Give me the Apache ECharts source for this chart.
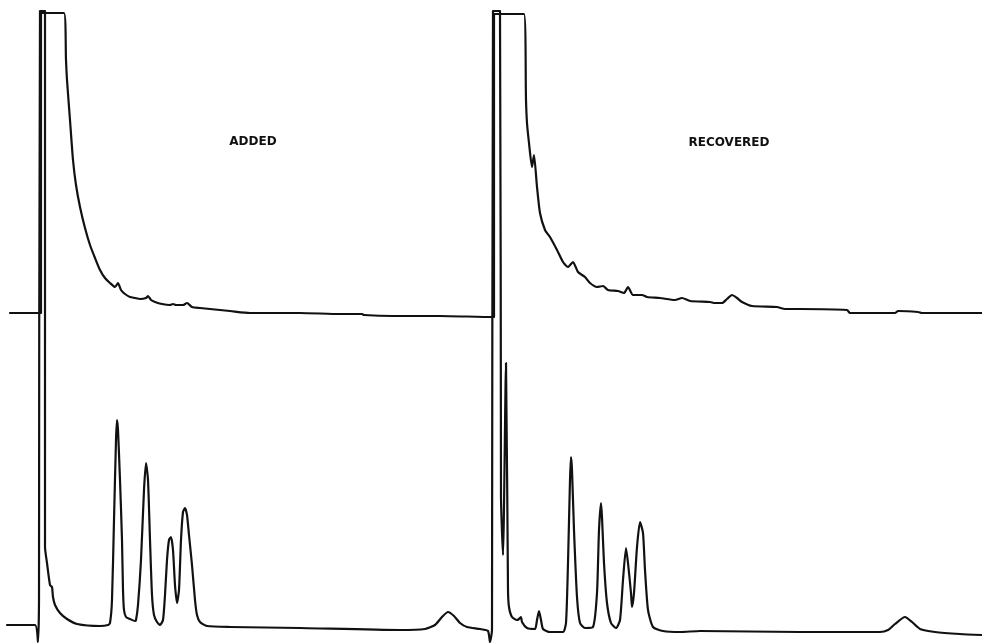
<!DOCTYPE html>
<html>
<head>
<meta charset="utf-8">
<script src="https://cdn.jsdelivr.net/npm/echarts@6/dist/echarts.min.js"></script>
<style>
  html, body { margin: 0; padding: 0; background: #ffffff; }
  #chart { width: 982px; height: 644px; }
</style>
</head>
<body>
<div id="chart"></div>
<script>
// Strip-chart recording: two pens running across the same paper.
// x = chart distance (retention), y = pen response; both pens saturate at the top.

const panelLabels = ['ADDED', 'RECOVERED'];

// Upper pen (high-sensitivity channel)
const upperTrace = [
  [10, 331], [40, 331], [41, 331], [41, 631], [64, 631], [66, 584], [67, 564],
  [70, 524], [73, 484], [76, 459], [80, 437], [85, 416], [90, 399], [95, 386],
  [100, 374], [105, 366], [110, 361], [115, 357], [118, 361], [121, 354],
  [125, 350], [130, 347], [135, 346], [140, 345], [146, 346], [148, 348],
  [151, 344], [155, 342], [162, 340], [170, 339], [173, 340], [176, 339],
  [183, 339], [187, 341], [192, 337], [200, 336], [230, 333], [250, 331],
  [300, 331], [340, 330], [362, 330], [364, 329], [393, 328], [440, 328],
  [493, 327], [494, 327], [494, 630], [524, 630], [526, 544], [527, 521],
  [529, 501], [532, 477], [534, 489], [537, 457], [540, 431], [545, 414],
  [550, 407], [557, 394], [563, 382], [568, 377], [573, 382], [578, 372],
  [585, 367], [590, 361], [597, 357], [603, 358], [608, 354], [618, 353],
  [624, 351], [628, 357], [633, 349], [642, 349], [647, 347], [660, 346],
  [675, 344], [682, 346], [690, 343], [710, 342], [715, 341], [722, 341],
  [727, 345], [732, 349], [737, 346], [742, 342], [752, 338], [777, 337],
  [785, 335], [800, 335], [847, 334], [850, 331], [895, 331], [898, 333],
  [918, 332], [922, 331], [982, 331]
];

// Lower pen (low-sensitivity channel)
const lowerTrace = [
  [7, 19], [35, 19], [38, 2], [39, 44], [40, 633], [45, 633], [45, 97],
  [47, 81], [50, 59], [52, 57], [53, 47], [55, 39], [60, 31], [67, 25],
  [77, 20], [100, 18], [108, 19],
  [110, 21], [112, 44], [114, 124], [116, 204], [117, 224], [118, 214],
  [120, 164], [122, 104], [123, 54], [124, 34], [126, 27], [130, 25],
  [135, 23], [136, 24],
  [138, 39], [141, 84], [144, 154], [146, 181], [148, 164], [150, 104],
  [152, 49], [154, 29], [157, 22], [160, 19],
  [163, 24], [165, 49], [167, 84], [169, 104], [171, 107], [173, 94],
  [175, 59], [177, 41], [179, 54], [181, 104], [183, 132], [185, 136],
  [187, 129], [189, 109], [192, 79], [195, 44], [197, 29], [200, 22],
  [207, 18], [230, 17], [300, 16], [400, 14], [425, 15], [435, 19],
  [442, 27], [448, 32], [454, 28], [460, 21], [467, 17], [480, 15],
  [488, 13], [490, 2], [492, 14], [493, 633], [500, 633], [501, 147],
  [503, 89], [506, 281], [508, 54], [509, 37], [512, 27], [517, 24],
  [519, 25], [521, 27], [522, 22], [527, 16], [535, 15], [537, 24],
  [539, 33], [541, 24], [543, 15], [550, 12], [563, 12],
  [566, 21], [568, 81], [570, 164], [571, 187], [572, 174], [574, 114],
  [577, 47], [580, 21], [585, 16], [593, 17],
  [597, 51], [599, 114], [601, 141], [602, 127], [604, 81], [607, 41],
  [611, 21], [616, 16],
  [620, 24], [623, 64], [626, 96], [628, 81], [631, 51], [632, 37],
  [634, 51], [637, 97], [640, 122], [643, 111], [645, 74], [648, 34],
  [653, 17], [663, 13], [680, 12], [700, 13], [800, 12], [880, 12],
  [888, 14], [895, 20], [905, 27], [912, 22], [920, 15], [935, 12],
  [960, 10], [982, 9]
];

const chart = echarts.init(document.getElementById('chart'), null, { renderer: 'canvas' });

const penStyle = { color: '#111111', width: 2.2, join: 'round', cap: 'round' };

function labelText(text, x, y) {
  return {
    type: 'text', x: x, y: y,
    style: {
      text: text, fill: '#111111', font: 'bold 12px "DejaVu Sans"',
      textAlign: 'center', textVerticalAlign: 'middle'
    }
  };
}

chart.setOption({
  backgroundColor: '#ffffff',
  animation: false,
  grid: { left: 0, right: 0, top: 0, bottom: 0 },
  xAxis: { type: 'value', min: 0, max: 982, show: false },
  yAxis: { type: 'value', min: 0, max: 644, show: false },
  series: [
    { name: 'upper', type: 'line', data: upperTrace, showSymbol: false, smooth: 0.2, lineStyle: penStyle, silent: true },
    { name: 'lower', type: 'line', data: lowerTrace, showSymbol: false, smooth: 0.2, lineStyle: penStyle, silent: true }
  ],
  graphic: [
    labelText(panelLabels[0], 253, 142),
    labelText(panelLabels[1], 729, 143)
  ]
});
</script>
</body>
</html>
